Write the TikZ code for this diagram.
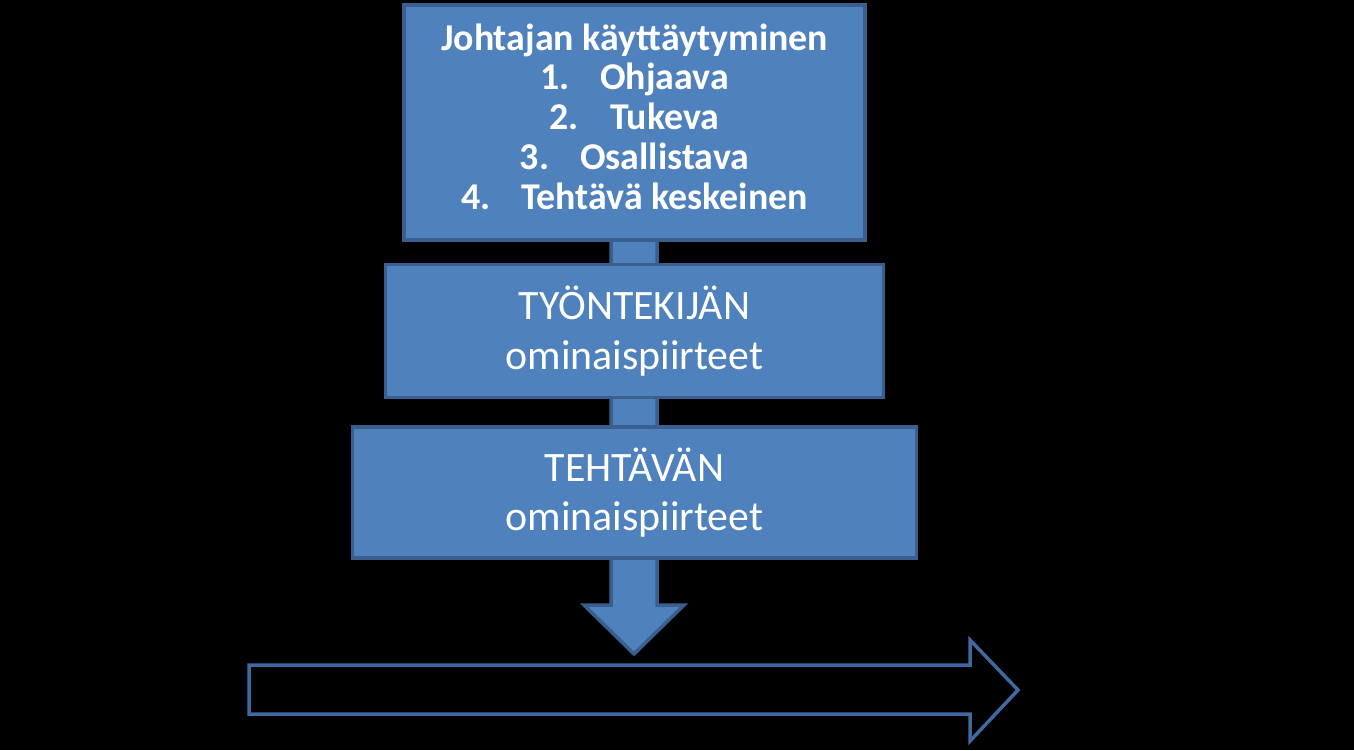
\documentclass[tikz,border=0pt]{standalone}
\usepackage{fontspec}
\setmainfont{Carlito}
\usetikzlibrary{positioning}
\definecolor{boxfill}{HTML}{4F81BD}
\definecolor{boxline}{HTML}{3A5F8E}
\definecolor{timeline}{HTML}{4069A0}
\begin{document}
\begin{tikzpicture}[x=1bp,y=-1bp]
      \tikzstyle{every path}=[line width=3.5bp]
      \tikzstyle{block}=[draw=boxline,fill=boxfill,text=white,align=center,inner sep=0pt]
      \tikzstyle{bigtext}=[font=\fontsize{42}{50}\selectfont]
      \edef\gap{31bp}

      \fill[black] (0,0) rectangle (1354,750);

      % arrow behind the boxes
      \draw[boxline,fill=boxfill,line join=miter] (611,240) -- (611,605) -- (584,605) -- (634,654)
        -- (684,605) -- (657,605) -- (657,240) -- cycle;

      \node [block,minimum width=461bp,minimum height=235bp,
        font=\bfseries\fontsize{38}{40}\selectfont] at (634.5,122.5) (lead)
        {Johtajan käyttäytyminen\\1.\hspace{\gap}Ohjaava\\2.\hspace{\gap}Tukeva\\
         3.\hspace{\gap}Osallistava\\4.\hspace{\gap}Tehtävä keskeinen\rule[-12bp]{0pt}{0pt}};
      \node [block,bigtext,minimum width=498bp,minimum height=133bp,below=21bp of lead] (worker)
        {TYÖNTEKIJÄN\\ominaispiirteet};
      \node [block,bigtext,minimum width=564bp,minimum height=131bp,below=26bp of worker] (task)
        {TEHTÄVÄN\\ominaispiirteet};

      % outcome arrow
      \draw[timeline,line join=miter] (249,665) -- (970,665) -- (970,640) -- (1018,690)
        -- (970,741) -- (970,714) -- (249,714) -- cycle;
\end{tikzpicture}
\end{document}
